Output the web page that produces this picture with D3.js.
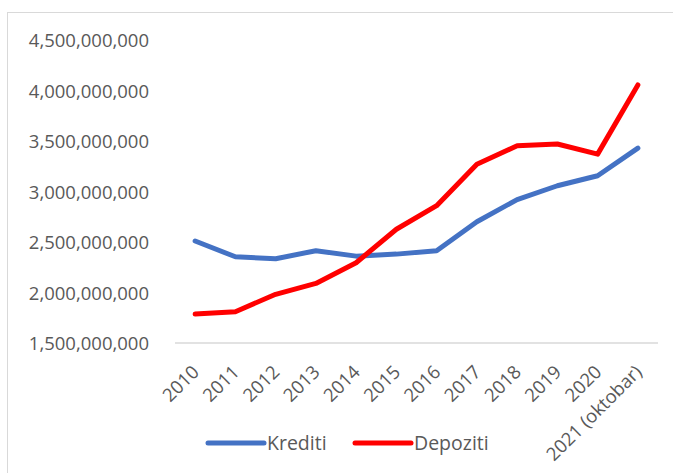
<!DOCTYPE html>
<html><head><meta charset="utf-8">
<script src="https://cdn.jsdelivr.net/npm/d3@7"></script>
<style>body{margin:0;background:#fff}svg{display:block}</style>
</head><body>
<script>
const categories = ["2010","2011","2012","2013","2014","2015","2016","2017","2018","2019","2020","2021 (oktobar)"];
const krediti = [2510000000,2354000000,2334000000,2414000000,2360000000,2380000000,2414000000,2700000000,2920000000,3057000000,3156000000,3430000000];
const depoziti = [1787000000,1810000000,1982000000,2090000000,2295000000,2626000000,2860000000,3270000000,3453000000,3470000000,3370000000,4055000000];
const yTicks = [1500000000,2000000000,2500000000,3000000000,3500000000,4000000000,4500000000];
const seriesNames = ["Krediti","Depoziti"];
const colors = ["#4472C4","#FF0000"];

const W = 673, H = 473;
const svg = d3.select("body").append("svg").attr("width", W).attr("height", H);
svg.append("rect").attr("x",7.5).attr("y",12.5).attr("width",700).attr("height",500)
  .attr("fill","#fff").attr("stroke","#d9d9d9").attr("stroke-width",1);

const font = "'Open Sans', sans-serif";
const x = d3.scaleBand().domain(categories).range([175, 658]);
const y = d3.scaleLinear().domain([1500000000, 4500000000]).range([343, 40]);

// axis line
svg.append("line").attr("x1",175).attr("x2",658).attr("y1",y(1500000000)).attr("y2",y(1500000000))
  .attr("stroke","#d9d9d9").attr("stroke-width",1.5);

const fmt = d3.format(",");
svg.append("g").selectAll("text").data(yTicks).join("text")
  .attr("x",149).attr("y",d=>y(d)+1).attr("dy","0.35em").attr("text-anchor","end")
  .attr("font-family",font).attr("font-size",18.5).attr("fill","#595959").text(d=>fmt(d));

svg.append("g").selectAll("text").data(categories).join("text")
  .attr("transform",d=>`translate(${x(d)+x.bandwidth()/2-4},${364}) rotate(-45)`)
  .attr("text-anchor","end").attr("dy","0.7em")
  .attr("font-family",font).attr("font-size",18.5).attr("fill","#595959").text(d=>d);

const line = d3.line().x((d,i)=>x(categories[i])+x.bandwidth()/2).y(d=>y(d));
[krediti, depoziti].forEach((s,k)=>{
  svg.append("path").datum(s).attr("d",line).attr("fill","none")
    .attr("stroke",colors[k]).attr("stroke-width",5).attr("stroke-linejoin","round").attr("stroke-linecap","round");
});

// legend
const lx = [208, 355];
seriesNames.forEach((n,k)=>{
  svg.append("line").attr("x1",lx[k]).attr("x2",lx[k]+56).attr("y1",443).attr("y2",443)
    .attr("stroke",colors[k]).attr("stroke-width",5).attr("stroke-linecap","round");
  svg.append("text").attr("x",lx[k]+59).attr("y",443).attr("dy","0.35em")
    .attr("font-family",font).attr("font-size",19.5).attr("fill","#595959").text(n);
});
</script>
</body></html>
